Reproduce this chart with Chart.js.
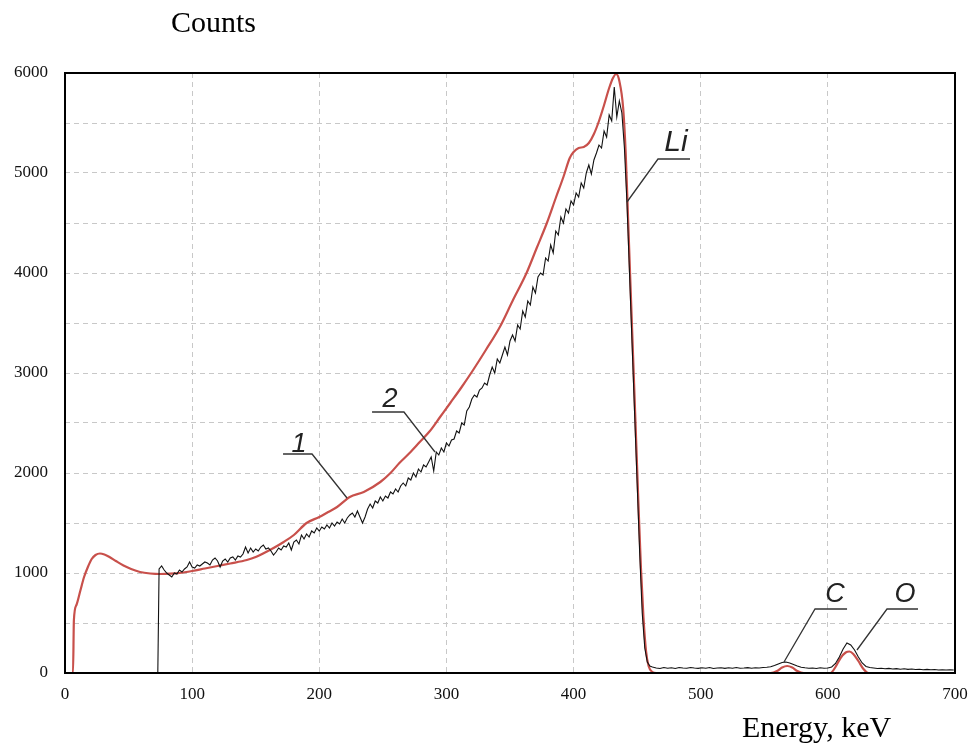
<!DOCTYPE html>
<html>
<head>
<title>Counts vs Energy</title>
<script src="https://cdn.jsdelivr.net/npm/chart.js@4.4.1/dist/chart.umd.min.js"></script>
<style>
  body { margin: 0; background: #fff; }
</style>
</head>
<body>
<canvas id="spectrum" width="973" height="744"></canvas>
<script>
// curve 1 (red, smooth simulation)
const energyRed = [0, 6.3, 7, 9, 12, 15, 18, 21, 24, 27.5, 31, 35, 40, 46, 52, 59, 67, 75, 83, 90,
  100, 110, 120, 130, 143, 150, 164, 172, 180, 190, 200, 207, 214, 224, 235, 248, 256, 263, 271, 279,
  287, 295, 303, 312, 321, 331, 342, 352, 363, 371, 379, 386, 392, 397, 400, 404, 408, 412, 416, 420,
  424, 428, 431, 433.5, 436, 439, 441, 443, 445, 447, 449, 451, 453, 455, 457, 459, 462, 465,
  555, 560, 564, 568, 572, 576, 581, 602, 606, 610, 614, 617, 620, 624, 628, 632, 700];
const countsRed = [0, 0, 530, 680, 820, 960, 1060, 1140, 1180, 1195, 1185, 1160, 1120, 1075, 1040, 1010, 995, 990, 993, 1000,
  1020, 1045, 1070, 1095, 1130, 1160, 1250, 1310, 1380, 1500, 1560, 1610, 1660, 1760, 1810, 1910, 2000, 2100, 2200, 2310,
  2420, 2560, 2700, 2860, 3030, 3230, 3460, 3720, 4000, 4250, 4500, 4750, 4960, 5150, 5210, 5250, 5260, 5300, 5390, 5520,
  5680, 5850, 5950, 5990, 5920, 5650, 5200, 4500, 3800, 3100, 2400, 1700, 1050, 550, 220, 70, 10, 0,
  0, 20, 55, 70, 55, 20, 0, 0, 60, 150, 205, 215, 190, 120, 40, 0, 0];

// curve 2 (black, measured spectrum)
const blackOnset = 73;
const blackMainStart = 74, blackMainStep = 2;
const countsBlackMain = [
  1040, 1070, 1030, 1000, 980, 960, 1000, 990, 1030, 1010,
  1040, 1060, 1110, 1060, 1050, 1080, 1070, 1090, 1110, 1100,
  1080, 1130, 1150, 1120, 1060, 1120, 1140, 1110, 1150, 1160,
  1130, 1170, 1160, 1190, 1260, 1200, 1250, 1210, 1240, 1220,
  1260, 1280, 1240, 1250, 1220, 1180, 1210, 1250, 1230, 1270,
  1260, 1300, 1230, 1310, 1330, 1290, 1380, 1340, 1390, 1360,
  1420, 1400, 1450, 1420, 1460, 1440, 1480, 1450, 1500, 1470,
  1510, 1490, 1540, 1500, 1550, 1580, 1600, 1560, 1620, 1560,
  1500, 1560, 1640, 1690, 1650, 1720, 1700, 1760, 1720, 1770,
  1750, 1810, 1790, 1840, 1810, 1870, 1900, 1870, 1950, 1930,
  2000, 1960, 2040, 2010, 2080, 2060, 2110, 2160, 2020, 2210,
  2180, 2250, 2210, 2300, 2270, 2330, 2340, 2420, 2400, 2500,
  2480, 2620, 2660, 2740, 2780, 2760, 2830, 2850, 2900, 2880,
  2980, 3060, 3000, 3140, 3100, 3180, 3260, 3180, 3320, 3380,
  3320, 3480, 3440, 3620, 3560, 3720, 3680, 3860, 3800, 3960,
  4000, 3980, 4150, 4120, 4280, 4200, 4420, 4380, 4560, 4500,
  4640, 4600, 4720, 4680, 4800, 4760, 4900, 4850, 5000, 5080,
  4990, 5130, 5200, 5280, 5250, 5420, 5360, 5580, 5520, 5860,
  5560, 5720, 5600, 5250, 4700, 4000, 3300, 2600, 1900, 1200,
  600, 250, 110, 70];
const blackTailStart = 462, blackTailStep = 3;
const countsBlackTail = [
  60, 50, 45, 55, 48, 52, 45, 55, 50, 47,
  55, 50, 46, 52, 48, 55, 45, 50, 53, 46,
  52, 48, 55, 47, 50, 54, 48, 52, 50, 55,
  58, 62, 75, 90, 105, 110, 100, 85, 70, 58,
  52, 48, 50, 45, 52, 48, 50, 60, 95, 160,
  240, 300, 280, 230, 160, 100, 65, 55, 50, 45,
  48, 42, 46, 40, 44, 38, 42, 36, 40, 35,
  38, 33, 36, 32, 35, 30, 33, 30, 32, 30];

const xTicks = [0, 100, 200, 300, 400, 500, 600, 700];
const yTicks = [0, 1000, 2000, 3000, 4000, 5000, 6000];

// callouts: label, text anchor, underline, point on curve (data units)
const callouts = [
  { text: '1',  tx: 184, ty: 2210, x1: 171.5, x2: 194.3, ly: 2190, px: 221.8, py: 1750, side: 'right', size: 27 },
  { text: '2',  tx: 255.6, ty: 2660, x1: 241.5, x2: 266.6, ly: 2610, px: 291, py: 2210, side: 'right', size: 27 },
  { text: 'Li', tx: 480.6, ty: 5220, x1: 466.4, x2: 491.6, ly: 5140, px: 442, py: 4710, side: 'left', size: 30 },
  { text: 'C',  tx: 605.6, ty: 710, x1: 589.9, x2: 615.1, ly: 640, px: 565.5, py: 110, side: 'left', size: 27 },
  { text: 'O',  tx: 660.7, ty: 710, x1: 646.5, x2: 670.9, ly: 640, px: 622.9, py: 230, side: 'left', size: 27 }
];

function pairs(xs, ys) {
  return ys.map(function(y, i) { return { x: xs[i], y: y }; });
}

let blackData = [{ x: blackOnset, y: 0 }];
countsBlackMain.forEach(function(c, i) { blackData.push({ x: blackMainStart + i * blackMainStep, y: c }); });
countsBlackTail.forEach(function(c, i) { blackData.push({ x: blackTailStart + i * blackTailStep, y: c }); });

const decor = {
  id: 'decor',
  afterDraw: function(chart) {
    const ctx = chart.ctx;
    const a = chart.chartArea;
    const sx = chart.scales.x, sy = chart.scales.y;
    ctx.save();
    // frame
    ctx.strokeStyle = '#000';
    ctx.lineWidth = 2;
    ctx.strokeRect(a.left, a.top, a.right - a.left, a.bottom - a.top);
    // axis titles
    ctx.fillStyle = '#000';
    ctx.font = '30px "Liberation Serif", "Times New Roman", serif';
    ctx.textAlign = 'left';
    ctx.textBaseline = 'alphabetic';
    ctx.fillText('Counts', 171, 32);
    ctx.fillText('Energy, keV', 742, 737);
    // callouts
    ctx.strokeStyle = '#333';
    ctx.lineWidth = 1.3;
    callouts.forEach(function(c) {
      const xa = sx.getPixelForValue(c.x1), xb = sx.getPixelForValue(c.x2);
      const ly = sy.getPixelForValue(c.ly);
      const near = c.side === 'right' ? xb : xa;
      const far = c.side === 'right' ? xa : xb;
      ctx.beginPath();
      ctx.moveTo(far, ly);
      ctx.lineTo(near, ly);
      ctx.lineTo(sx.getPixelForValue(c.px), sy.getPixelForValue(c.py));
      ctx.stroke();
      ctx.fillStyle = '#222';
      ctx.font = 'italic ' + c.size + 'px "Liberation Sans", Arial, sans-serif';
      ctx.textAlign = 'center';
      ctx.fillText(c.text, sx.getPixelForValue(c.tx), sy.getPixelForValue(c.ty));
    });
    ctx.restore();
  }
};

const tickFont = { family: '"Liberation Serif", "Times New Roman", serif', size: 17 };

new Chart(document.getElementById('spectrum').getContext('2d'), {
  type: 'line',
  data: {
    datasets: [
      {
        label: '1',
        data: pairs(energyRed, countsRed),
        borderColor: '#c8504b',
        borderWidth: 2.2,
        pointRadius: 0,
        cubicInterpolationMode: 'monotone',
        order: 2
      },
      {
        label: '2',
        data: blackData,
        borderColor: '#111',
        borderWidth: 1.1,
        pointRadius: 0,
        tension: 0,
        order: 1
      }
    ]
  },
  options: {
    responsive: false,
    animation: false,
    layout: { padding: { top: 73, right: 18, bottom: 0, left: 0 } },
    plugins: { legend: { display: false }, tooltip: { enabled: false } },
    scales: {
      x: {
        type: 'linear',
        min: 0, max: 700,
        afterFit: function(s) { s.height = 71; s.paddingLeft = 0; s.paddingRight = 0; },
        afterBuildTicks: function(s) { s.ticks = xTicks.map(function(v) { return { value: v }; }); },
        ticks: { color: '#111', font: tickFont, padding: 11, maxRotation: 0, autoSkip: false },
        grid: { color: '#c8c8c8', lineWidth: 1, drawTicks: false },
        border: { display: false, dash: [5, 4] }
      },
      y: {
        min: 0, max: 6000,
        afterFit: function(s) { s.width = 65; },
        afterBuildTicks: function(s) {
          let t = [];
          yTicks.forEach(function(v, i) {
            t.push({ value: v });
            if (i < yTicks.length - 1) t.push({ value: v + 500 });
          });
          s.ticks = t;
        },
        ticks: {
          color: '#111', font: tickFont, padding: 17, autoSkip: false,
          callback: function(v) { return yTicks.indexOf(v) >= 0 ? String(v) : ''; }
        },
        grid: { color: '#c8c8c8', lineWidth: 1, drawTicks: false },
        border: { display: false, dash: [5, 4] }
      }
    }
  },
  plugins: [decor]
});
</script>
</body>
</html>
